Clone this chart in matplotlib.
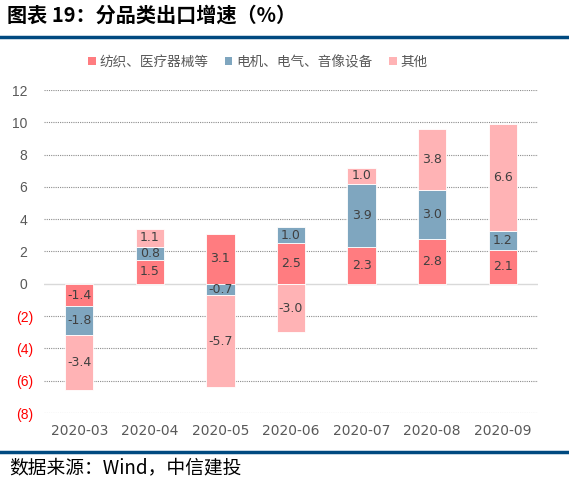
import matplotlib
matplotlib.use("Agg")
import matplotlib.pyplot as plt
from matplotlib.lines import Line2D
from matplotlib.patches import Patch
import numpy as np

plt.rcParams['font.family'] = ['Noto Sans CJK SC', 'DejaVu Sans']

categories = ["2020-03", "2020-04", "2020-05", "2020-06", "2020-07", "2020-08", "2020-09"]
series_names = ["纺织、医疗器械等", "电机、电气、音像设备", "其他"]
textile = [-1.4, 1.5, 3.1, 2.5, 2.3, 2.8, 2.1]
electric = [-1.8, 0.8, -0.7, 1.0, 3.9, 3.0, 1.2]
other = [-3.4, 1.1, -5.7, -3.0, 1.0, 3.8, 6.6]
yticks = [-8, -6, -4, -2, 0, 2, 4, 6, 8, 10, 12]
colors = ["#FF7C80", "#7FA6BF", "#FFB3B5"]

W, H = 569, 486
fig = plt.figure(figsize=(W / 100, H / 100), dpi=100)

ax = fig.add_axes([44 / W, 1 - 413 / H, (538 - 44) / W, (413 - 90) / H])
x = np.arange(len(categories))
pos_base = np.zeros(len(categories))
neg_base = np.zeros(len(categories))
for vals, c in zip([textile, electric, other], colors):
    vals = np.array(vals)
    bottoms = np.where(vals >= 0, pos_base, neg_base)
    ax.bar(x, vals, width=0.4, bottom=bottoms, color=c, edgecolor="white", linewidth=0.6, zorder=3)
    for xi, v, b in zip(x, vals, bottoms):
        ax.text(xi, b + v / 2, f"{v:.1f}", ha="center", va="center", fontsize=9,
                color="#404040", family=["DejaVu Sans"], zorder=4)
    pos_base = pos_base + np.where(vals >= 0, vals, 0)
    neg_base = neg_base + np.where(vals < 0, vals, 0)

ax.set_xlim(-0.5, len(categories) - 0.5)
ax.set_ylim(-8, 12)
ax.set_yticks(yticks)
ylabels = [f"({abs(t)})" if t < 0 else f"{t}\u2009\u2009" for t in yticks]
ax.set_yticklabels(ylabels, fontsize=10, family=["Liberation Sans", "DejaVu Sans"])
for lab, t in zip(ax.get_yticklabels(), yticks):
    lab.set_color("#FF0000" if t < 0 else "#595959")
ax.tick_params(axis="both", length=0)
ax.tick_params(axis="y", pad=8)
ax.set_xticks(x)
ax.set_xticklabels(categories, fontsize=10, color="#595959", family=["DejaVu Sans"])
ax.tick_params(axis="x", pad=8)
for s in ax.spines.values():
    s.set_visible(False)
for t in yticks:
    if t == 0:
        ax.axhline(0, color="#D9D9D9", linewidth=1.0, zorder=1)
    else:
        ax.axhline(t, color="#8C8C8C", linewidth=0.8, linestyle=(0, (1, 1)), zorder=1)

# Title and rules
fig.text(7 / W, 1 - 15 / H, "图表 19：分品类出口增速（%）", fontsize=14.5, fontweight="bold",
         va="center", ha="left", color="#000000")
fig.add_artist(Line2D([0, 1], [1 - 37 / H, 1 - 37 / H], color="#004A80", linewidth=2.5))
fig.add_artist(Line2D([0, 1], [1 - 452 / H, 1 - 452 / H], color="#004A80", linewidth=2.5))
fig.text(9 / W, 1 - 468 / H, "数据来源：Wind，中信建投", fontsize=13.5, va="center", ha="left",
         color="#000000", style="italic")

handles = [Patch(facecolor=c, edgecolor="none") for c in colors]
fig.legend(handles, series_names, loc="center", bbox_to_anchor=(258 / W, 1 - 62 / H), ncol=3,
           frameon=False, fontsize=9.8, handlelength=0.55, handleheight=0.55, handletextpad=0.3,
           columnspacing=1.2, labelcolor="#595959")

fig.savefig("out.png", dpi=100)
